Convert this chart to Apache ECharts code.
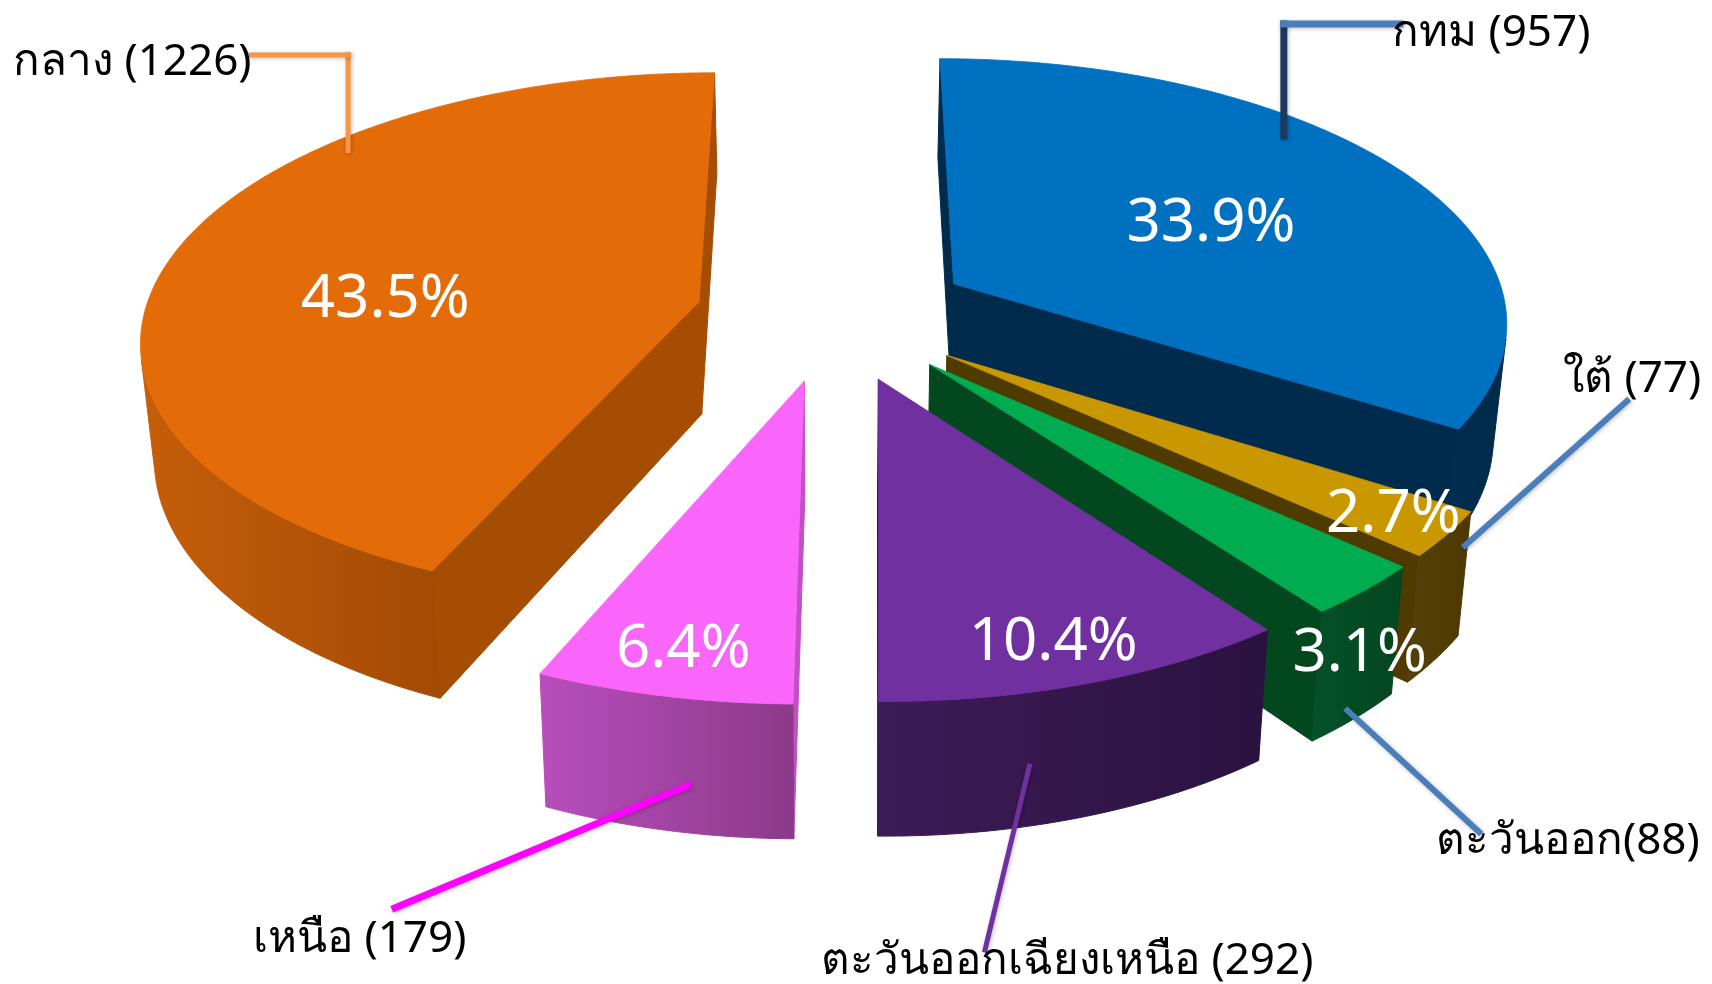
<!DOCTYPE html>
<html>
<head>
<meta charset="utf-8">
<script src="https://cdn.jsdelivr.net/npm/echarts@6/dist/echarts.min.js"></script>
<style>
html, body { margin: 0; padding: 0; background: #fff; }
#chart { width: 1712px; height: 984px; }
</style>
</head>
<body>
<div id="chart"></div>
<script>
// data, clockwise from 12 o'clock
var regions = ['กทม', 'ใต้', 'ตะวันออก', 'ตะวันออกเฉียงเหนือ', 'เหนือ', 'กลาง'];
var counts = [957, 77, 88, 292, 179, 1226];
var shares = ['33.9%', '2.7%', '3.1%', '10.4%', '6.4%', '43.5%'];
var nameLabels = ['กทม (957)', 'ใต้ (77)', 'ตะวันออก(88)', 'ตะวันออกเฉียงเหนือ (292)', 'เหนือ (179)', 'กลาง (1226)'];

// colours
var topColors = ['#0070C0', '#C99800', '#00AC4F', '#7030A0', '#FA66FA', '#E36C09'];
var sideColors = [
    ['#002E52', '#002A4A'],
    ['#54400A', '#4D3900'],
    ['#05502A', '#03461F'],
    ['#3E1B57', '#2A1240'],
    ['#B84EBC', '#8C3A8A'],
    ['#C65E0A', '#A24A04']
];
var wallColors = ['#002B4C', '#4F3B00', '#03471F', '#2C1340', '#C050C4', '#A64D04'];

// 3d view of the pie
var CX = 834, CY = 315, RX = 555, RY = 262;
var DEPTH = 113 / RY, PERSP = 0.13, SLANT = 0.02, EXPLODE = 0.25;
var DEG = Math.PI / 180;

// where the value text sits: [fraction of slice angle, radius, fraction of depth]
var shareSpot = [[0.52, 0.55, 0], [0.5, 0.9, 0], [0.5, 1.0, 0.5], [0.52, 0.88, 0], [0.5, 0.87, 0], [0.43, 0.57, 0]];
// leader lines: anchor on slice, corner y, outer end, text position
var leaders = [
    {anchor: [0.383, 0.92, 0], elbow: 24, end: [1400, 24], text: [1392, 33], colors: ['#1B3A5E', '#4A7EBB'], width: 7},
    {anchor: [0.06, 1, 0.25], end: [1627, 401], text: [1563, 379], colors: ['#4A7EBB'], width: 6},
    {anchor: [0.6, 1, 0.9], end: [1479, 832], text: [1436, 841], colors: ['#4A7EBB'], width: 6},
    {anchor: [0.64, 1, 0.55], end: [985, 950], text: [821, 961], colors: ['#7030A0'], width: 5},
    {anchor: [0.41, 1, 0.65], end: [395, 908], text: [253, 939], colors: ['#FF00FF'], width: 7},
    {anchor: [0.692, 0.95, 0], elbow: 55, end: [251, 55], text: [13, 62], colors: ['#F79646'], width: 5}
];

var total = counts.reduce(function (a, b) { return a + b; }, 0);
var startAngles = [], endAngles = [];
var acc = 0;
counts.forEach(function (c) {
    startAngles.push(acc / total * 360);
    acc += c;
    endAngles.push(acc / total * 360);
});

// far slices first
var rank = [];
counts.map(function (c, i) {
    return {i: i, v: Math.cos((startAngles[i] + endAngles[i]) / 2 * DEG)};
}).sort(function (a, b) { return b.v - a.v; }).forEach(function (o, k) { rank[o.i] = k; });

function area(pts) {
    var a = 0;
    for (var j = 0; j < pts.length; j++) {
        var p = pts[j], q = pts[(j + 1) % pts.length];
        a += p[0] * q[1] - q[0] * p[1];
    }
    return a / 2;
}

function renderItem(params, api) {
    var i = params.dataIndex;
    var a0 = startAngles[i] * DEG, a1 = endAngles[i] * DEG, mid = (a0 + a1) / 2;
    var ou = EXPLODE * Math.sin(mid), ov = EXPLODE * Math.cos(mid);
    var base = rank[i] * 10;
    var children = [];

    function pt(theta, r, h) {
        var u = ou + r * Math.sin(theta), v = ov + r * Math.cos(theta);
        var s = 1 / (1 + PERSP * v);
        var k = 1 - SLANT * (-h / DEPTH);
        return api.coord([u * s * k, (v + h) * s]);
    }
    function spot(f) {
        return pt(a0 + (a1 - a0) * f[0], f[1], -DEPTH * f[2]);
    }

    var wallStyle = {fill: wallColors[i], stroke: wallColors[i], lineWidth: 1};
    var w0 = [pt(a0, 0, 0), pt(a0, 1, 0), pt(a0, 1, -DEPTH), pt(a0, 0, -DEPTH)];
    var w1 = [pt(a1, 0, 0), pt(a1, 0, -DEPTH), pt(a1, 1, -DEPTH), pt(a1, 1, 0)];
    [w0, w1].forEach(function (w) {
        if (area(w) < 0) children.push({type: 'polygon', z2: base, shape: {points: w}, style: wallStyle});
    });

    // outer rim, only the parts facing us
    var n = Math.max(2, Math.ceil((a1 - a0) / (0.5 * DEG)));
    var tops = [], bots = [];
    for (var j = 0; j <= n; j++) {
        var t = a0 + (a1 - a0) * j / n;
        tops.push(pt(t, 1, 0));
        bots.push(pt(t, 1, -DEPTH));
    }
    var runs = [], run = null;
    for (j = 0; j < n; j++) {
        if (area([tops[j], tops[j + 1], bots[j + 1], bots[j]]) < 0) {
            if (!run) run = {s: j, e: j};
            run.e = j + 1;
        } else if (run) {
            runs.push(run);
            run = null;
        }
    }
    if (run) runs.push(run);
    runs.forEach(function (r) {
        var grad = new echarts.graphic.LinearGradient(0, 0, 1, 0, [
            {offset: 0, color: sideColors[i][0]},
            {offset: 1, color: sideColors[i][1]}
        ]);
        children.push({
            type: 'polygon', z2: base + 1,
            shape: {points: tops.slice(r.s, r.e + 1).concat(bots.slice(r.s, r.e + 1).reverse())},
            style: {fill: grad, stroke: grad, lineWidth: 1}
        });
    });

    children.push({
        type: 'polygon', z2: base + 2,
        shape: {points: [pt(0, 0, 0)].concat(tops)},
        style: {fill: topColors[i], stroke: topColors[i], lineWidth: 0.8}
    });

    var sp = spot(shareSpot[i]);
    children.push({
        type: 'text', z2: 100,
        style: {
            text: shares[i], x: sp[0], y: sp[1], fill: '#fff',
            font: '60px "Noto Sans", "DejaVu Sans", sans-serif',
            align: 'center', verticalAlign: 'middle'
        }
    });

    var L = leaders[i];
    var an = spot(L.anchor);
    var pts;
    if (L.elbow != null) {
        pts = [an, [an[0], L.elbow], L.end];
    } else {
        pts = [an, L.end];
    }
    for (j = 0; j < pts.length - 1; j++) {
        var col = L.colors[Math.min(j, L.colors.length - 1)];
        children.push({
            type: 'line', z2: 90,
            shape: {x1: pts[j][0], y1: pts[j][1], x2: pts[j + 1][0], y2: pts[j + 1][1]},
            style: {stroke: col, lineWidth: L.width, lineCap: 'square', shadowBlur: 4, shadowColor: 'rgba(0,0,0,0.25)', shadowOffsetX: 1, shadowOffsetY: 1}
        });
    }
    children.push({
        type: 'text', z2: 110,
        style: {
            text: nameLabels[i], x: L.text[0], y: L.text[1], fill: '#000',
            font: '44px "Noto Sans", "DejaVu Sans", sans-serif',
            align: 'left', verticalAlign: 'middle'
        }
    });

    return {type: 'group', children: children};
}

var chart = echarts.init(document.getElementById('chart'));
chart.setOption({
    animation: false,
    backgroundColor: '#fff',
    grid: {left: 0, right: 0, top: 0, bottom: 0},
    xAxis: {type: 'value', min: -CX / RX, max: (1712 - CX) / RX, show: false},
    yAxis: {type: 'value', min: (CY - 984) / RY, max: CY / RY, show: false},
    series: [{
        type: 'custom',
        clip: false,
        renderItem: renderItem,
        data: counts.map(function (c, i) {
            return {name: regions[i], value: [0, 0, c]};
        })
    }]
});
</script>
</body>
</html>
